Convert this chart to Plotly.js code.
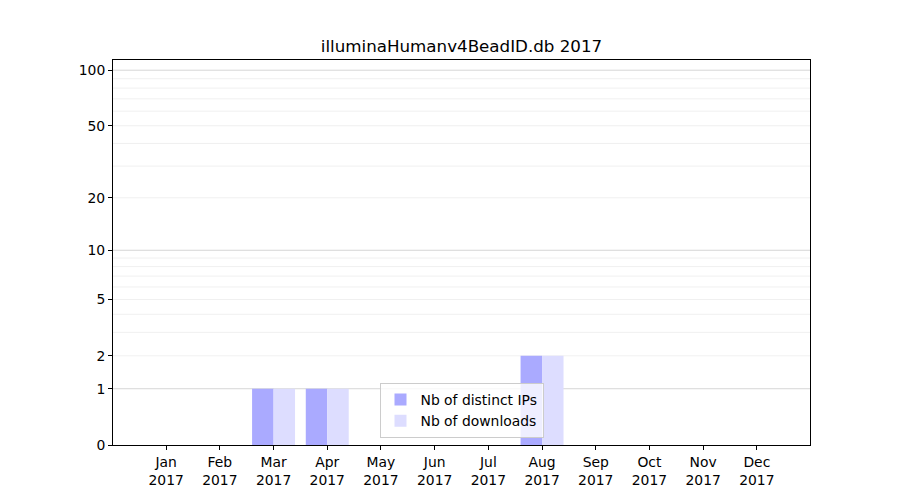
<!DOCTYPE html>
<html>
<head>
<meta charset="utf-8">
<script src="https://cdn.plot.ly/plotly-3.0.1.min.js"></script>
<style>html,body{margin:0;padding:0;background:#fff;}#chart{width:900px;height:500px;}</style>
</head>
<body>
<div id="chart"></div>
<script>
const months = ["Jan","Feb","Mar","Apr","May","Jun","Jul","Aug","Sep","Oct","Nov","Dec"];
const year = "2017";
const distinctIPs = [0,0,1,1,0,0,0,2,0,0,0,0];
const downloads   = [0,0,1,1,0,0,0,2,0,0,0,0];
const yTickValues = [0,1,2,5,10,20,50,100];
const majorGrid = [1,10,100];
const minorGrid = [2,3,4,5,6,7,8,9,20,30,40,50,60,70,80,90];

const tf = v => Math.log10(1 + v);
const xIdx = months.map((m,i)=>i);

const traces = [
  {type:'bar', name:'Nb of distinct IPs', x:xIdx, y:distinctIPs.map(tf),
   marker:{color:'#aaaaff', line:{width:0}}, hoverinfo:'skip'},
  {type:'bar', name:'Nb of downloads', x:xIdx, y:downloads.map(tf),
   marker:{color:'#ddddff', line:{width:0}}, hoverinfo:'skip'}
];

const shapes = [];
minorGrid.forEach(v => shapes.push({type:'line', xref:'paper', x0:0, x1:1, yref:'y', y0:tf(v), y1:tf(v),
  line:{color:'#ececec', width:0.8}, layer:'below'}));
majorGrid.forEach(v => shapes.push({type:'line', xref:'paper', x0:0, x1:1, yref:'y', y0:tf(v), y1:tf(v),
  line:{color:'#cccccc', width:0.8}, layer:'below'}));

const font = {family:'DejaVu Sans, sans-serif', size:13.9, color:'#000'};

const layout = {
  width:900, height:500,
  margin:{l:113, r:90, t:60, b:55},
  paper_bgcolor:'#fff', plot_bgcolor:'#fff',
  font:font,
  title:{text:'illuminaHumanv4BeadID.db ' + year, font:{family:'DejaVu Sans, sans-serif', size:16.7, color:'#000'},
         x:0.5, xanchor:'center', xref:'paper', y:1-46/500, yanchor:'middle', yref:'container'},
  barmode:'group', bargap:0.2, bargroupgap:0,
  xaxis:{range:[-0.99, 11.99], tickmode:'array', tickvals:xIdx,
         ticktext:months.map(m => m + '<br>' + year),
         showgrid:false, zeroline:false, showline:true, mirror:true, linecolor:'#000', linewidth:1,
         ticks:'outside', ticklen:4, tickcolor:'#000', tickwidth:1, tickfont:font, fixedrange:true},
  yaxis:{range:[0, 2.059], tickmode:'array', tickvals:yTickValues.map(tf), ticktext:yTickValues.map(String),
         showgrid:false, zeroline:false, showline:true, mirror:true, linecolor:'#000', linewidth:1,
         ticks:'outside', ticklen:4, tickcolor:'#000', tickwidth:1, tickfont:font, fixedrange:true},
  shapes:shapes,
  legend:{x:0.5, xanchor:'center', y:0.018, yanchor:'bottom', bgcolor:'rgba(255,255,255,0.8)',
          bordercolor:'#cccccc', borderwidth:1, font:font, traceorder:'normal'},
  showlegend:true
};

Plotly.newPlot('chart', traces, layout, {staticPlot:true, displayModeBar:false});
</script>
</body>
</html>
